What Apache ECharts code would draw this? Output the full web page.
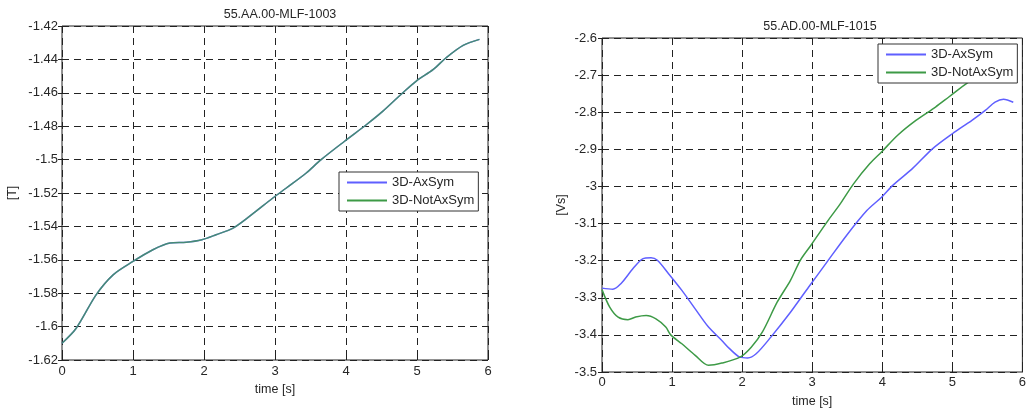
<!DOCTYPE html>
<html>
<head>
<meta charset="utf-8">
<script src="https://cdn.jsdelivr.net/npm/echarts@6/dist/echarts.min.js"></script>
<style>
html,body{margin:0;padding:0;background:#fff;}
#c{width:1029px;height:416px;}
</style>
</head>
<body>
<div id="c"></div>
<script>
// ---- Data ----
var titles = ['55.AA.00-MLF-1003', '55.AD.00-MLF-1015'];
var seriesNames = ['3D-AxSym', '3D-NotAxSym'];
var yNames = ['[T]', '[Vs]'];
var xName = 'time [s]';

// Left chart (both series overlap)
var leftTime = [0, 0.2, 0.48, 0.72, 1.0, 1.28, 1.52, 1.75, 1.97, 2.17, 2.41, 2.64, 2.97, 3.16, 3.44, 3.65, 3.98, 4.29, 4.52, 4.8, 4.99, 5.23, 5.41, 5.65, 5.88];
var leftAxSym = [-1.610, -1.601, -1.581, -1.569, -1.561, -1.554, -1.550, -1.5495, -1.548, -1.545, -1.541, -1.534, -1.523, -1.517, -1.508, -1.500, -1.489, -1.479, -1.471, -1.460, -1.453, -1.446, -1.439, -1.4316, -1.428];
var leftNotAxSym = [-1.610, -1.601, -1.581, -1.569, -1.561, -1.554, -1.550, -1.5495, -1.548, -1.545, -1.541, -1.534, -1.523, -1.517, -1.508, -1.500, -1.489, -1.479, -1.471, -1.460, -1.453, -1.446, -1.439, -1.4316, -1.428];

// Right chart
var rightTimeAx = [0, 0.155, 0.27, 0.44, 0.58, 0.70, 0.79, 0.95, 1.14, 1.33, 1.52, 1.71, 1.82, 1.97, 2.08, 2.2, 2.41, 2.69, 2.95, 3.21, 3.49, 3.78, 3.99, 4.15, 4.43, 4.72, 5.0, 5.28, 5.47, 5.61, 5.73, 5.87];
var rightAxSym = [-3.274, -3.277, -3.262, -3.222, -3.195, -3.192, -3.199, -3.235, -3.280, -3.330, -3.379, -3.415, -3.437, -3.460, -3.462, -3.451, -3.406, -3.339, -3.271, -3.204, -3.132, -3.065, -3.029, -2.997, -2.952, -2.898, -2.858, -2.822, -2.795, -2.773, -2.765, -2.773];
var rightTimeNot = [0, 0.11, 0.23, 0.37, 0.48, 0.63, 0.77, 0.91, 0.98, 1.14, 1.33, 1.52, 1.71, 1.97, 2.13, 2.29, 2.5, 2.69, 2.83, 2.98, 3.21, 3.40, 3.59, 3.82, 3.99, 4.22, 4.48, 4.76, 4.95, 5.23, 5.47, 5.87];
var rightNotAxSym = [-3.278, -3.325, -3.352, -3.359, -3.352, -3.348, -3.357, -3.379, -3.400, -3.424, -3.455, -3.482, -3.476, -3.460, -3.433, -3.392, -3.312, -3.253, -3.199, -3.159, -3.096, -3.047, -2.993, -2.939, -2.907, -2.862, -2.822, -2.786, -2.759, -2.719, -2.692, -2.655];

var leftY = {min: -1.62, max: -1.42, interval: 0.02};
var rightY = {min: -3.5, max: -2.6, interval: 0.1};
var xRange = {min: 0, max: 6, interval: 1};

function pairs(t, v) { return t.map(function (x, i) { return [x, v[i]]; }); }

var FONT = 'Liberation Sans, Arial, sans-serif';
var TXT = '#262626';
var BLUE = '#5f5fff';
var GREEN = '#3d9a46';

var grids = [
  {left: 62, top: 26, width: 426, height: 334, show: true, borderColor: '#222', borderWidth: 1, backgroundColor: '#fff'},
  {left: 602, top: 38, width: 426, height: 334, show: true, borderColor: '#222', borderWidth: 1, backgroundColor: '#fff'}
];

function fmtY(dec) {
  return function (v) { return String(+v.toFixed(dec)); };
}

var xAxes = [], yAxes = [];
[0, 1].forEach(function (g) {
  xAxes.push({
    type: 'value', gridIndex: g, min: xRange.min, max: xRange.max, interval: xRange.interval,
    name: xName, nameLocation: 'middle', nameGap: g === 0 ? 21 : 23,
    nameTextStyle: {fontFamily: FONT, fontSize: 12.5, color: TXT},
    axisLine: {show: false},
    axisTick: {show: true, inside: true, length: 4, lineStyle: {color: '#222'}},
    axisLabel: {fontFamily: FONT, fontSize: 13, color: TXT, margin: g === 0 ? 5 : 4},
    splitLine: {show: true, lineStyle: {color: '#222', type: [7, 5], width: 1}}
  });
  xAxes.push({
    type: 'value', gridIndex: g, position: 'top', min: xRange.min, max: xRange.max, interval: xRange.interval,
    axisLine: {show: false},
    axisTick: {show: true, inside: true, length: 4, lineStyle: {color: '#222'}},
    axisLabel: {show: false}, splitLine: {show: false}
  });
  var yr = g === 0 ? leftY : rightY;
  yAxes.push({
    type: 'value', gridIndex: g, min: yr.min, max: yr.max, interval: yr.interval,
    name: yNames[g], nameLocation: 'middle', nameGap: g === 0 ? 43 : 34, nameRotate: 90,
    nameTextStyle: {fontFamily: FONT, fontSize: 12.5, color: TXT},
    axisLine: {show: false},
    axisTick: {show: true, inside: true, length: 4, lineStyle: {color: '#222'}},
    axisLabel: {fontFamily: FONT, fontSize: 13, color: TXT, margin: g === 0 ? 4 : 5, formatter: fmtY(g === 0 ? 2 : 1)},
    splitLine: {show: true, lineStyle: {color: '#222', type: [7, 5], width: 1}}
  });
  yAxes.push({
    type: 'value', gridIndex: g, position: 'right', min: yr.min, max: yr.max, interval: yr.interval,
    axisLine: {show: false},
    axisTick: {show: true, inside: true, length: 4, lineStyle: {color: '#222'}},
    axisLabel: {show: false}, splitLine: {show: false}
  });
});

function lineSeries(name, data, xi, yi, color, opacity) {
  return {
    type: 'line', name: name, data: data, xAxisIndex: xi, yAxisIndex: yi,
    showSymbol: false, symbol: 'none', smooth: 0.3,
    lineStyle: {color: color, width: 1.5, opacity: opacity},
    itemStyle: {color: color},
    z: 3
  };
}

function legend(left, top) {
  return {
    left: left, top: top, orient: 'vertical', icon: 'rect', itemWidth: 40, itemHeight: 2,
    itemGap: 5, padding: [4, 4, 4, 8], backgroundColor: '#fff', borderColor: '#333', borderWidth: 1,
    textStyle: {fontFamily: FONT, fontSize: 13, color: TXT},
    data: seriesNames, selectedMode: false, z: 10
  };
}

var option = {
  backgroundColor: '#fff',
  animation: false,
  title: [
    {text: titles[0], left: 275, top: 3, textAlign: 'center', textStyle: {fontFamily: FONT, fontSize: 12.5, fontWeight: 'normal', color: TXT}},
    {text: titles[1], left: 815, top: 15, textAlign: 'center', textStyle: {fontFamily: FONT, fontSize: 12.5, fontWeight: 'normal', color: TXT}}
  ],
  grid: grids,
  xAxis: xAxes,
  yAxis: yAxes,
  legend: [legend(339, 172), legend(878, 44)],
  series: [
    lineSeries(seriesNames[0], pairs(leftTime, leftAxSym), 0, 0, BLUE, 1),
    lineSeries(seriesNames[1], pairs(leftTime, leftNotAxSym), 0, 0, GREEN, 0.75),
    lineSeries(seriesNames[0], pairs(rightTimeAx, rightAxSym), 2, 2, BLUE, 1),
    lineSeries(seriesNames[1], pairs(rightTimeNot, rightNotAxSym), 2, 2, GREEN, 1)
  ]
};

var chart = echarts.init(document.getElementById('c'), null, {renderer: 'canvas'});
chart.setOption(option);
</script>
</body>
</html>
